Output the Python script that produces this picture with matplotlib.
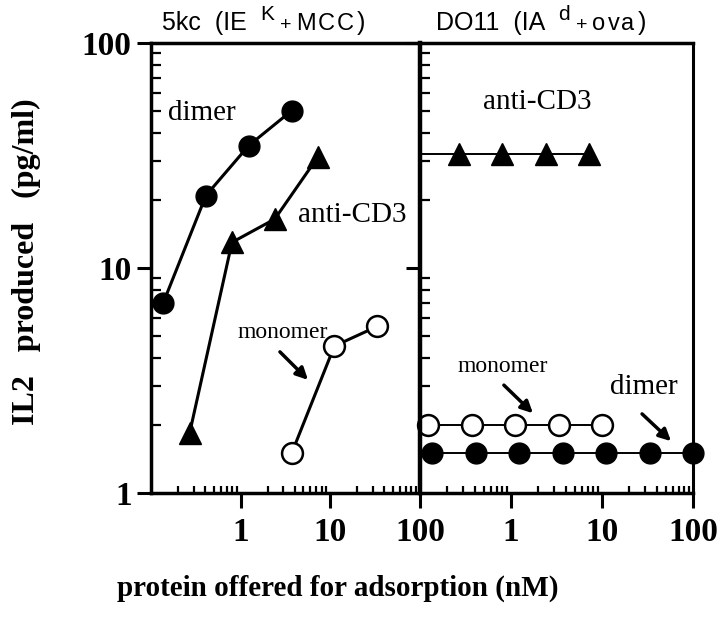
import matplotlib
matplotlib.use("Agg")
import matplotlib.pyplot as plt
from matplotlib.ticker import NullFormatter, FixedLocator, FixedFormatter

plt.rcParams['font.family'] = 'Liberation Serif'

# 5kc panel (IE^K + MCC)
dimer_5kc_x = [0.137, 0.41, 1.23, 3.7]
dimer_5kc_y = [7.0, 21.0, 35.0, 50.0]
cd3_5kc_x = [0.27, 0.8, 2.4, 7.2]
cd3_5kc_y = [1.85, 13.0, 16.5, 31.0]
mono_5kc_x = [3.7, 11.1, 33.3]
mono_5kc_y = [1.5, 4.5, 5.5]

# DO11 panel (IA^d + ova)
cd3_do11_x = [0.1, 0.27, 0.8, 2.4, 7.2]   # first value: line start at axis edge
cd3_do11_y = [32, 32, 32, 32, 32]
mono_do11_x = [0.123, 0.37, 1.11, 3.33, 10.0]
mono_do11_y = [2.0, 2.0, 2.0, 2.0, 2.0]
dimer_do11_x = [0.137, 0.41, 1.23, 3.7, 11.1, 33.3, 100.0]
dimer_do11_y = [1.5, 1.5, 1.5, 1.5, 1.5, 1.5, 1.5]

tick_vals = [1, 10, 100]
tick_labels = ['1', '10', '100']

W, H = 720, 633
fig = plt.figure(figsize=(W / 100, H / 100), dpi=100)

bottom = 1 - 493 / H
height = 450 / H
ax1 = fig.add_axes([151 / W, bottom, 269 / W, height])
ax2 = fig.add_axes([420 / W, bottom, 273 / W, height])

for ax in (ax1, ax2):
    ax.set_xscale('log')
    ax.set_yscale('log')
    ax.set_xlim(0.1, 100)
    ax.set_ylim(1, 100)
    for sp in ax.spines.values():
        sp.set_linewidth(2.5)
    ax.xaxis.set_major_locator(FixedLocator(tick_vals))
    ax.xaxis.set_major_formatter(FixedFormatter(tick_labels))
    ax.xaxis.set_minor_formatter(NullFormatter())
    ax.yaxis.set_major_locator(FixedLocator(tick_vals))
    ax.yaxis.set_minor_formatter(NullFormatter())
    ax.tick_params(axis='x', which='major', direction='out', length=11, width=2.2,
                   labelsize=24, pad=6)
    ax.tick_params(axis='x', which='minor', direction='in', length=5, width=1.6)
    ax.tick_params(axis='y', which='major', direction='out', length=10, width=2.2,
                   labelsize=24, pad=4)
    ax.tick_params(axis='y', which='minor', direction='in', length=7, width=1.6)
    for lab in ax.get_xticklabels() + ax.get_yticklabels():
        lab.set_fontweight('bold')

ax1.yaxis.set_major_formatter(FixedFormatter(tick_labels))
for lab in ax1.get_yticklabels():
    lab.set_fontweight('bold')
ax1.spines['right'].set_visible(False)
ax2.yaxis.set_major_formatter(NullFormatter())
ax2.spines['left'].set_linewidth(3.2)
ax2.spines['right'].set_linewidth(2.2)

# left panel data
ax1.plot(dimer_5kc_x, dimer_5kc_y, '-o', color='black', lw=2.2, ms=15, clip_on=False)
ax1.plot(cd3_5kc_x, cd3_5kc_y, '-^', color='black', lw=2.2, ms=16, clip_on=False)
ax1.plot(mono_5kc_x, mono_5kc_y, '-o', color='black', lw=2.2, ms=15,
         mfc='white', mec='black', mew=1.8, clip_on=False)

# right panel data
ax2.plot(cd3_do11_x, cd3_do11_y, '-^', color='black', lw=1.4, ms=16,
         markevery=slice(1, None), clip_on=False)
ax2.plot(mono_do11_x, mono_do11_y, '-o', color='black', lw=1.4, ms=15,
         mfc='white', mec='black', mew=1.8, clip_on=False)
ax2.plot(dimer_do11_x, dimer_do11_y, '-o', color='black', lw=1.4, ms=15,
         clip_on=False, zorder=5)

# annotations
ax1.text(0.19, 0.844, 'dimer', transform=ax1.transAxes, fontsize=21,
         ha='center', va='center')
ax1.text(0.747, 0.618, 'anti-CD3', transform=ax1.transAxes, fontsize=21,
         ha='center', va='center')
ax1.text(0.489, 0.356, 'monomer', transform=ax1.transAxes, fontsize=17,
         ha='center', va='center')
ax2.text(0.429, 0.869, 'anti-CD3', transform=ax2.transAxes, fontsize=21,
         ha='center', va='center')
ax2.text(0.302, 0.28, 'monomer', transform=ax2.transAxes, fontsize=17,
         ha='center', va='center')
ax2.text(0.821, 0.236, 'dimer', transform=ax2.transAxes, fontsize=21,
         ha='center', va='center')

arrow = dict(arrowstyle='-|>,head_length=0.7,head_width=0.35', color='black', lw=2.5)
ax1.annotate('', xy=(0.591, 0.247), xytext=(0.472, 0.318),
             xycoords='axes fraction', textcoords='axes fraction', arrowprops=arrow)
ax2.annotate('', xy=(0.421, 0.173), xytext=(0.300, 0.244),
             xycoords='axes fraction', textcoords='axes fraction', arrowprops=arrow)
ax2.annotate('', xy=(0.927, 0.111), xytext=(0.806, 0.18),
             xycoords='axes fraction', textcoords='axes fraction', arrowprops=arrow)

# axis labels
fig.text(26 / W, 1 - 262 / H, 'IL2   produced   (pg/ml)', rotation=90,
         fontsize=23, fontweight='bold', ha='center', va='center')
fig.text(338 / W, 1 - 588 / H, 'protein offered for adsorption (nM)',
         fontsize=21, fontweight='bold', ha='center', va='center')

# panel titles built piece by piece (superscript + smaller text)
renderer = fig.canvas.get_renderer()


def title_pieces(x0, base, pieces):
    x = x0
    for s, size, dy, gap in pieces:
        t = fig.text(x / W, 1 - (base - dy) / H, s, fontsize=size,
                     family='Liberation Sans', ha='left', va='baseline')
        x += t.get_window_extent(renderer).width + gap


title_pieces(162, 30, [('5kc  (IE', 18, 0, 13), ('K', 15, 10, 6), ('+', 14, 0, 5),
                       ('M', 17, 0, 2), ('C', 17, 0, 2), ('C', 17, 0, 3), (')', 18, 0, 0)])
title_pieces(436, 30, [('DO11  (IA', 18, 0, 13), ('d', 15, 10, 6), ('+', 14, 0, 5),
                       ('o', 17, 0, 2), ('v', 17, 0, 2), ('a', 17, 0, 3), (')', 18, 0, 0)])

fig.savefig('out.png', dpi=100)
